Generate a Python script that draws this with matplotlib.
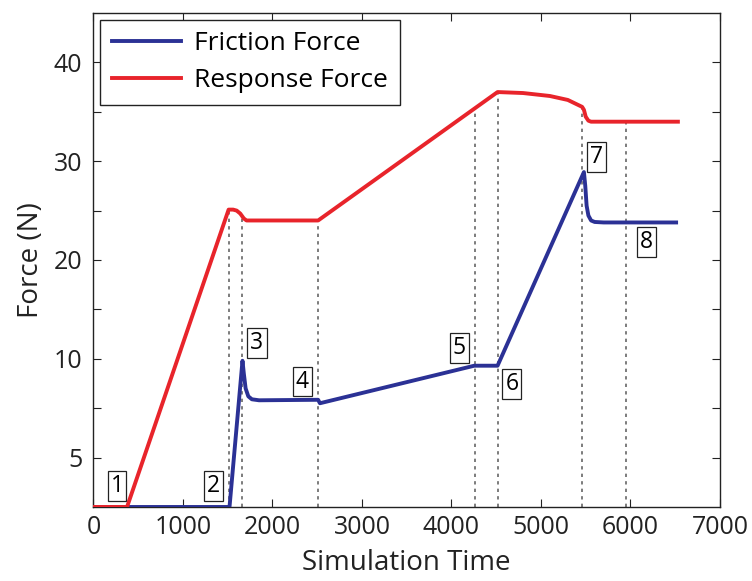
import matplotlib
matplotlib.use("Agg")
import matplotlib.pyplot as plt
import numpy as np

plt.rcParams["font.family"] = ["Open Sans", "DejaVu Sans"]

# --- values (y in axis units; tick "5" sits at 0) ---
friction_t = [0, 1520, 1665, 1680, 1700, 1730, 1770, 1850, 2510, 2530,
              4255, 4515, 5480, 5495, 5510, 5530, 5560, 5600, 5700, 6510]
friction_f = [-5, -5, 9.8, 8.5, 7.0, 6.2, 5.9, 5.8, 5.85, 5.5,
              9.3, 9.3, 28.9, 27.5, 25.5, 24.5, 24.0, 23.85, 23.8, 23.8]

response_t = [0, 375, 1510, 1560, 1600, 1640, 1680, 1710, 2510, 4515,
              4800, 5100, 5300, 5460, 5480, 5500, 5530, 5560, 6530]
response_f = [-5, -5, 25.1, 25.1, 25.0, 24.7, 24.2, 24.0, 24.0, 37.0,
              36.9, 36.6, 36.2, 35.5, 35.2, 34.5, 34.1, 34.0, 34.0]

event_t = [1518, 1662, 2514, 4264, 4515, 5462, 5952]

label_text = ["1", "2", "3", "4", "5", "6", "7", "8"]
label_t = [263, 1338, 1827, 2331, 4085, 4675, 5624, 6176]
label_f = [-2.9, -2.9, 11.6, 7.7, 11.1, 7.4, 30.4, 21.85]

ytick_pos = [0, 10, 20, 30, 40]
ytick_lab = ["5", "10", "20", "30", "40"]

blue = "#2b3195"
red = "#e8242b"

fig = plt.figure(figsize=(7.52, 5.81), dpi=100)
ax = fig.add_axes([0.1243, 0.1274, 0.8331, 0.8502])

# dotted event markers from bottom up to the response curve
for t in event_t:
    top = np.interp(t, response_t, response_f)
    ax.plot([t, t], [-5, top], linestyle=(0, (2, 2.5)), color="#666666", lw=1.2, zorder=1)

ax.plot(friction_t, friction_f, color=blue, lw=2.8, label="Friction Force", zorder=3)
ax.plot(response_t, response_f, color=red, lw=2.8, label="Response Force", zorder=4)

for txt, t, f in zip(label_text, label_t, label_f):
    ax.text(t, f, txt, ha="center", va="center", fontsize=16.5, zorder=5,
            bbox=dict(boxstyle="square,pad=0.13", fc="white", ec="#222222", lw=0.9))

ax.set_xlim(0, 7000)
ax.set_ylim(-5, 45)
ax.set_xticks(np.arange(0, 7001, 1000))
ax.set_yticks(ytick_pos)
ax.set_yticklabels(ytick_lab)
ax.set_yticks([5, 15, 25, 35], minor=True)
ax.tick_params(which="both", direction="in", top=True, right=True, length=6, width=0.8,
               labelsize=18, colors="#222222", pad=6)
ax.tick_params(axis="y", pad=8)
for s in ax.spines.values():
    s.set_linewidth(1.0)
    s.set_color("#222222")

ax.set_xlabel("Simulation Time", fontsize=20, color="#222222", labelpad=6)
ax.set_ylabel("Force (N)", fontsize=20, color="#222222", labelpad=6)

leg = ax.legend(loc="upper left", fontsize=19, fancybox=False, framealpha=1,
                edgecolor="#222222", handlelength=2.6, borderaxespad=0.25,
                labelspacing=0.45, handletextpad=0.5, borderpad=0.45)
leg.get_frame().set_linewidth(1.0)

fig.savefig("out.png", dpi=100)
